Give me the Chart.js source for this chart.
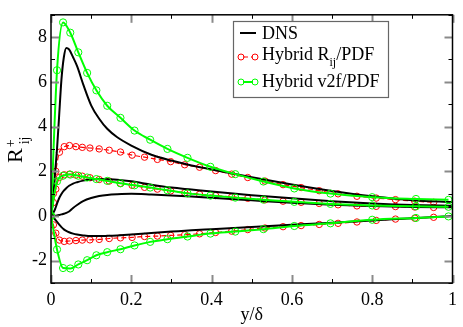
<!DOCTYPE html>
<html>
<head>
<meta charset="utf-8">
<script src="https://cdn.jsdelivr.net/npm/chart.js@4"></script>
<style>
html, body { margin: 0; padding: 0; background: #fff; }
canvas { display: block; }
</style>
</head>
<body>
<canvas id="rChart" width="463" height="327"></canvas>
<script>
// axis ticks
const xTicks = [0, 0.2, 0.4, 0.6, 0.8, 1];
const xMinor = [0.1, 0.3, 0.5, 0.7, 0.9];
const yTicks = [-2, 0, 2, 4, 6, 8];
const yMinor = [-3, -1, 1, 3, 5, 7, 9];

// DNS (black lines)
const dnsX  = [0, 0.005, 0.01, 0.015, 0.02, 0.026, 0.032, 0.038, 0.045, 0.055, 0.065, 0.08, 0.1, 0.12, 0.14, 0.165, 0.2, 0.25, 0.3, 0.35, 0.4, 0.5, 0.6, 0.7, 0.8, 0.9, 1.0];
const dnsUU = [0, 0.7, 1.9, 3.0, 4.4, 6.1, 7.1, 7.52, 7.45, 7.1, 6.7, 5.9, 4.95, 4.35, 3.9, 3.52, 3.15, 2.74, 2.48, 2.26, 2.08, 1.73, 1.41, 1.12, 0.88, 0.7, 0.62];
const dnsWW = [0, 0.12, 0.3, 0.55, 0.78, 0.98, 1.13, 1.24, 1.35, 1.45, 1.51, 1.58, 1.63, 1.65, 1.64, 1.62, 1.55, 1.4, 1.27, 1.18, 1.09, 0.93, 0.79, 0.66, 0.56, 0.49, 0.46];
const dnsVV = [0, 0, 0.01, 0.02, 0.04, 0.07, 0.1, 0.14, 0.2, 0.36, 0.49, 0.66, 0.8, 0.89, 0.94, 0.97, 0.99, 0.96, 0.92, 0.87, 0.81, 0.7, 0.59, 0.5, 0.44, 0.4, 0.39];
const dnsUV = [0, -0.04, -0.15, -0.27, -0.38, -0.5, -0.6, -0.67, -0.73, -0.79, -0.83, -0.87, -0.9, -0.9, -0.89, -0.87, -0.83, -0.76, -0.7, -0.64, -0.59, -0.49, -0.39, -0.3, -0.2, -0.1, 0];

// Hybrid Rij/PDF (red, dashed)
const rijX  = [0, 0.006, 0.012, 0.021, 0.033, 0.046, 0.062, 0.078, 0.097, 0.12, 0.145, 0.173, 0.202, 0.233, 0.265, 0.298, 0.333, 0.37, 0.41, 0.45, 0.49, 0.533, 0.578, 0.623, 0.668, 0.715, 0.762, 0.81, 0.858, 0.906, 0.953];
const rijUU = [0, 1.0, 2.0, 2.85, 3.1, 3.15, 3.1, 3.07, 3.04, 3.0, 2.94, 2.86, 2.72, 2.63, 2.53, 2.43, 2.29, 2.18, 2.03, 1.87, 1.72, 1.56, 1.4, 1.27, 1.13, 0.99, 0.88, 0.8, 0.73, 0.66, 0.61];
const rijKK = [0, 0.6, 1.2, 1.72, 1.84, 1.87, 1.83, 1.78, 1.71, 1.63, 1.56, 1.46, 1.37, 1.28, 1.2, 1.12, 1.04, 0.97, 0.91, 0.85, 0.79, 0.72, 0.66, 0.61, 0.56, 0.5, 0.45, 0.43, 0.42, 0.4, 0.38];
const rijUV = [0, -0.4, -0.77, -1.08, -1.14, -1.12, -1.1, -1.08, -1.07, -1.05, -1.01, -0.98, -0.96, -0.92, -0.9, -0.87, -0.84, -0.8, -0.74, -0.68, -0.61, -0.54, -0.48, -0.43, -0.38, -0.33, -0.27, -0.2, -0.14, -0.1, -0.06];

// Hybrid v2f/PDF (green, solid)
const v2fX  = [0, 0.015, 0.03, 0.048, 0.068, 0.09, 0.113, 0.14, 0.173, 0.208, 0.247, 0.29, 0.34, 0.397, 0.459, 0.529, 0.606, 0.696, 0.8, 0.909, 0.99];
const v2fUU = [0, 6.52, 8.66, 8.2, 7.32, 6.4, 5.62, 4.93, 4.39, 3.82, 3.41, 3.0, 2.6, 2.2, 1.87, 1.54, 1.23, 1.0, 0.84, 0.76, 0.72];
const v2fKK = [0, 1.55, 1.8, 1.85, 1.8, 1.72, 1.65, 1.57, 1.46, 1.37, 1.27, 1.15, 1.01, 0.91, 0.82, 0.73, 0.63, 0.54, 0.47, 0.43, 0.41];
const v2fUV = [0, -1.5, -2.33, -2.35, -2.17, -1.98, -1.76, -1.62, -1.49, -1.32, -1.16, -1.04, -0.92, -0.79, -0.7, -0.59, -0.45, -0.33, -0.17, -0.09, -0.02];

const pts = (xs, ys) => xs.map((x, i) => ({ x: x, y: ys[i] }));

const dnsLine = (ys) => ({
    data: pts(dnsX, ys), showLine: true, borderColor: '#000', borderWidth: 2,
    pointRadius: 0, cubicInterpolationMode: 'monotone', order: 1
});
const rijLine = (ys) => ({
    data: pts(rijX, ys), showLine: true, borderColor: '#ff0000', borderWidth: 1.2,
    borderDash: [5, 3], pointRadius: 3.2, pointBorderWidth: 1,
    pointBorderColor: '#ff0000', pointBackgroundColor: 'rgba(0,0,0,0)',
    cubicInterpolationMode: 'monotone', order: 2
});
const v2fLine = (ys) => ({
    data: pts(v2fX, ys), showLine: true, borderColor: '#00ff00', borderWidth: 2,
    pointRadius: 3.6, pointBorderWidth: 1,
    pointBorderColor: '#00ff00', pointBackgroundColor: 'rgba(0,0,0,0)',
    cubicInterpolationMode: 'monotone', order: 0
});

const serif = '"Liberation Serif", "DejaVu Serif", serif';

// frame, inward ticks, axis titles and legend
const decor = {
    id: 'decor',
    afterDraw(c) {
        const ctx = c.ctx, a = c.chartArea;
        const xs = c.scales.x, ys = c.scales.y;
        ctx.save();
        const tick = (px, py, dx, dy, len, major) => {
            ctx.beginPath();
            ctx.strokeStyle = major ? '#8a8a8a' : '#000';
            ctx.lineWidth = major ? 2 : 1;
            ctx.moveTo(px, py);
            ctx.lineTo(px + dx * len, py + dy * len);
            ctx.stroke();
        };
        xTicks.forEach(v => { const p = Math.round(xs.getPixelForValue(v)) + 0.5;
            tick(p, a.bottom, 0, -1, 8, true); tick(p, a.top, 0, 1, 8, true); });
        xMinor.forEach(v => { const p = Math.round(xs.getPixelForValue(v)) + 0.5;
            tick(p, a.bottom, 0, -1, 4, false); tick(p, a.top, 0, 1, 4, false); });
        yTicks.forEach(v => { const p = Math.round(ys.getPixelForValue(v)) + 0.5;
            tick(a.left, p, 1, 0, 8, true); tick(a.right, p, -1, 0, 8, true); });
        yMinor.forEach(v => { const p = Math.round(ys.getPixelForValue(v)) + 0.5;
            tick(a.left, p, 1, 0, 4, false); tick(a.right, p, -1, 0, 4, false); });

        ctx.strokeStyle = '#000';
        ctx.lineWidth = 1.5;
        ctx.strokeRect(a.left, a.top, a.right - a.left, a.bottom - a.top);

        // x title
        ctx.fillStyle = '#000';
        ctx.font = '18px ' + serif;
        ctx.textAlign = 'center';
        ctx.textBaseline = 'alphabetic';
        ctx.fillText('y/\u03b4', (a.left + a.right) / 2, 320);

        // y title R+ij, rotated
        ctx.save();
        ctx.translate(22, 163);
        ctx.rotate(-Math.PI / 2);
        ctx.textAlign = 'left';
        ctx.font = '22px ' + serif;
        ctx.fillText('R', 0, 0);
        const rw = ctx.measureText('R').width;
        ctx.font = '14px ' + serif;
        ctx.fillText('+', rw + 1, -7);
        ctx.fillText('ij', rw + 4, 7);
        ctx.restore();

        // legend
        const lx = 233, ly = 21, lw = 155, lh = 76;
        ctx.fillStyle = '#fff';
        ctx.fillRect(lx, ly, lw, lh);
        ctx.strokeStyle = '#666';
        ctx.lineWidth = 1.2;
        ctx.strokeRect(lx + 0.5, ly + 0.5, lw, lh);
        const rows = [33, 57, 82];
        // DNS
        ctx.beginPath(); ctx.strokeStyle = '#000'; ctx.lineWidth = 2;
        ctx.moveTo(240, rows[0]); ctx.lineTo(256, rows[0]); ctx.stroke();
        // red
        ctx.beginPath(); ctx.strokeStyle = '#ff0000'; ctx.lineWidth = 1.2; ctx.setLineDash([5, 3]);
        ctx.moveTo(243, rows[1]); ctx.lineTo(253, rows[1]); ctx.stroke(); ctx.setLineDash([]);
        [241, 255].forEach(px => { ctx.beginPath(); ctx.arc(px, rows[1], 3, 0, Math.PI * 2); ctx.lineWidth = 1; ctx.stroke(); });
        // green
        ctx.beginPath(); ctx.strokeStyle = '#00ff00'; ctx.lineWidth = 2;
        ctx.moveTo(243, rows[2]); ctx.lineTo(253, rows[2]); ctx.stroke();
        [241, 255].forEach(px => { ctx.beginPath(); ctx.arc(px, rows[2], 3, 0, Math.PI * 2); ctx.lineWidth = 1; ctx.stroke(); });

        ctx.fillStyle = '#000';
        ctx.textAlign = 'left';
        ctx.font = '18px ' + serif;
        ctx.fillText('DNS', 262, 39);
        ctx.fillText('Hybrid R', 262, 60);
        let w = ctx.measureText('Hybrid R').width;
        ctx.font = '12px ' + serif;
        ctx.fillText('ij', 262 + w, 66);
        const sw = ctx.measureText('ij').width;
        ctx.font = '18px ' + serif;
        ctx.fillText('/PDF', 262 + w + sw, 60);
        ctx.fillText('Hybrid v2f/PDF', 262, 87);
        ctx.restore();
    }
};

new Chart(document.getElementById('rChart'), {
    type: 'scatter',
    data: {
        datasets: [
            dnsLine(dnsUU), dnsLine(dnsWW), dnsLine(dnsVV), dnsLine(dnsUV),
            rijLine(rijUU), rijLine(rijKK), rijLine(rijUV),
            v2fLine(v2fUU), v2fLine(v2fKK), v2fLine(v2fUV)
        ]
    },
    options: {
        responsive: false,
        animation: false,
        devicePixelRatio: 1,
        layout: { padding: { top: 2, right: 4, left: 0, bottom: 0 } },
        plugins: { legend: { display: false }, tooltip: { enabled: false } },
        scales: {
            x: {
                type: 'linear', min: 0, max: 1,
                grid: { display: false, drawTicks: false },
                border: { display: false },
                afterBuildTicks: s => { s.ticks = xTicks.map(v => ({ value: v })); },
                afterFit: s => { s.height = 44; },
                ticks: { color: '#000', padding: 6, maxRotation: 0,
                         font: { family: serif, size: 18 },
                         callback: v => String(v) }
            },
            y: {
                type: 'linear', min: -3, max: 9,
                grid: { display: false, drawTicks: false },
                border: { display: false },
                afterBuildTicks: s => { s.ticks = yTicks.map(v => ({ value: v })); },
                afterFit: s => { s.width = 51; },
                ticks: { color: '#000', padding: 4,
                         font: { family: serif, size: 18 },
                         callback: v => String(v) }
            }
        }
    },
    plugins: [decor]
});
</script>
</body>
</html>
